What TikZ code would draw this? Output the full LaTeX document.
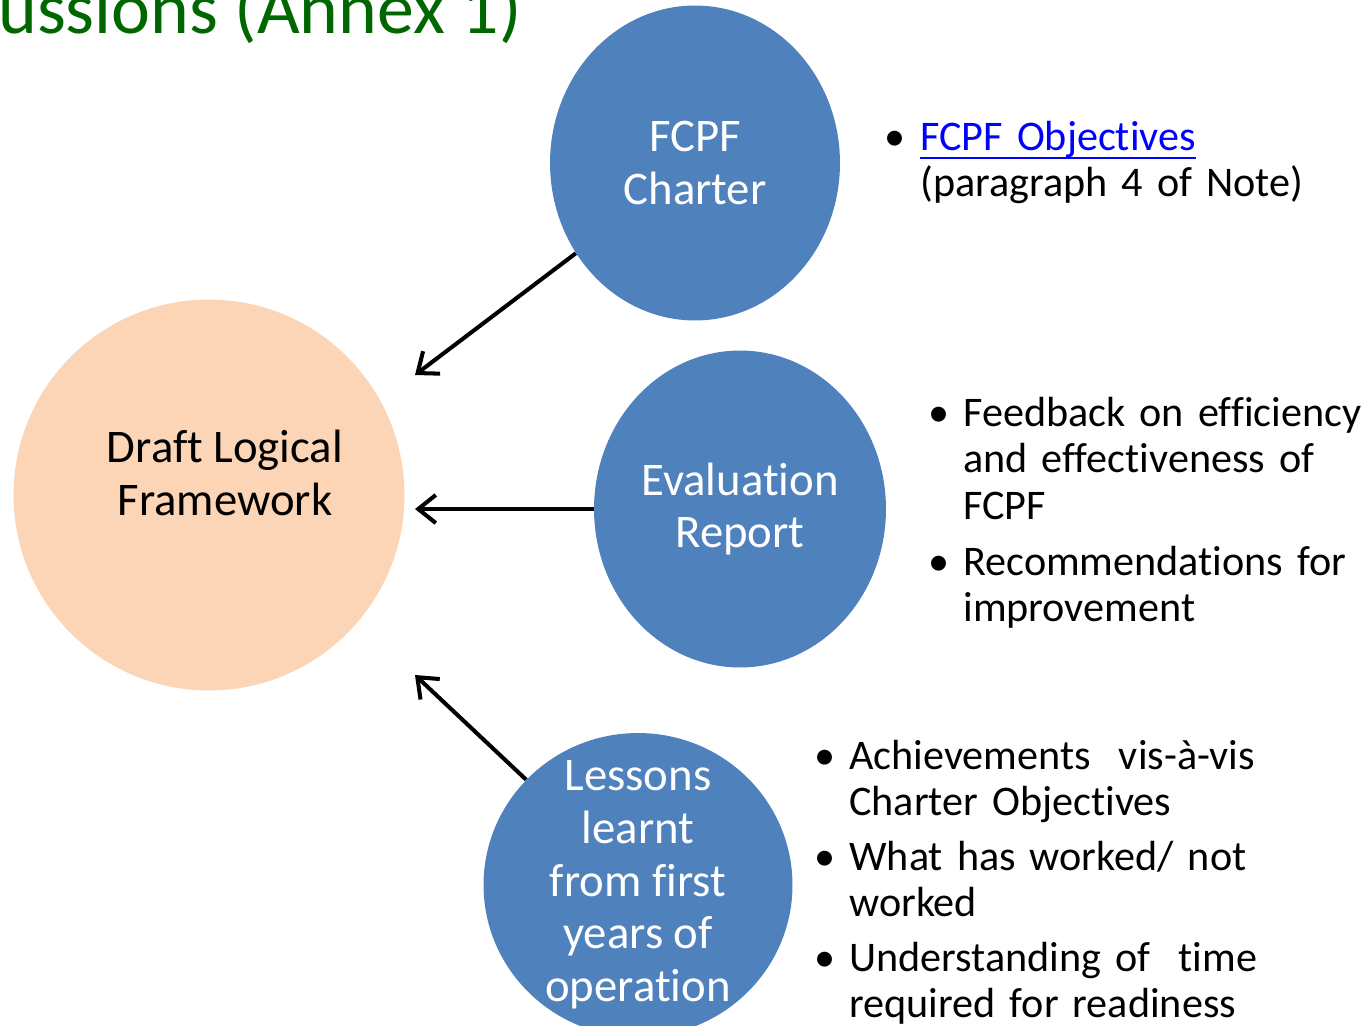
\documentclass[tikz,border=0pt]{standalone}
\usepackage{fontspec}
\setmainfont{Carlito}[Ligatures={NoCommon}]
\usetikzlibrary{arrows.meta,shapes.geometric}
\definecolor{circleblue}{RGB}{79,129,189}
\definecolor{draftpeach}{RGB}{251,213,181}
\definecolor{titlegreen}{RGB}{0,102,0}
\definecolor{linkblue}{RGB}{0,0,255}
\newcommand{\circfont}{\fontsize{26.6}{30}\selectfont}
\newcommand{\notefont}{\fontsize{24}{26.6}\selectfont}
\newcommand{\headfont}{\fontsize{42}{48}\selectfont}
\newcommand{\linkline}[1]{\setbox0\hbox{#1}\rlap{\rule[-5.4pt]{\wd0}{1.7pt}}\box0}

\begin{document}
\begin{tikzpicture}[x=0.02cm, y=0.02cm,
    bluecircle/.style={ellipse, fill=circleblue, draw=none, inner sep=0pt},
    circletext/.style={text=white, font=\circfont, align=center, inner sep=0pt},
    feedarrow/.style={line width=2.3pt, -{Straight Barb[length=10pt,width=16pt]}},
    bulletdot/.style={anchor=base west, inner sep=0pt, font=\notefont},
    notetext/.style={anchor=base west, inner sep=0pt, font=\notefont, align=left, text width=9cm}]
                    \useasboundingbox (0,0) rectangle (1362,-1025);
                    % heading, cut off at the top
                    \node[anchor=base east, font=\headfont, text=titlegreen, inner sep=0pt] (title) at (522,-33) {ussions (Annex 1)};
                    % circles
                    \node[ellipse, fill=draftpeach, inner sep=0pt, minimum width=7.82cm, minimum height=7.82cm] (draft) at (209,-495) {};
                    \node[circletext, text=black] (drafttext) at (225,-473) {Draft Logical\\Framework};
                    \node[bluecircle, minimum width=5.8cm, minimum height=6.3cm] (charter) at (695,-163) {};
                    \node[circletext] (chartertext) at (charter) {FCPF\\Charter};
                    \node[bluecircle, minimum width=5.84cm, minimum height=6.34cm] (evaluation) at (740,-509) {};
                    \node[circletext] (evaluationtext) at (evaluation) {Evaluation\\Report};
                    \node[bluecircle, minimum width=6.18cm, minimum height=6.08cm] (lessons) at (638,-885) {};
                    \node[circletext] (lessonstext) at (lessons) {Lessons\\learnt\\from first\\years of\\operation};
                    % arrows into the draft
                    \coordinate (tipA) at (415,-375);
                    \coordinate (tipB) at (415,-509);
                    \coordinate (tipC) at (415,-675);
                    \draw[feedarrow] (charter) -- (tipA);
                    \draw[feedarrow] (evaluation) -- (tipB);
                    \draw[feedarrow] (lessons) -- (tipC);
                    % bullet notes
                    \node[bulletdot] (dotA) at (884,-150) {•};
                    \node[notetext] (noteA) at (920,-150) {\textcolor{linkblue}{\linkline{FCPF Objectives}}\\(paragraph 4 of Note)};
                    \node[bulletdot] (dotB) at (928,-426) {•};
                    \node[notetext] (noteB) at (963,-426) {Feedback on efficiency\\and effectiveness of\\FCPF};
                    \node[bulletdot] (dotC) at (928,-575) {•};
                    \node[notetext] (noteC) at (963,-575) {Recommendations for\\improvement};
                    \node[bulletdot] (dotD) at (814,-769) {•};
                    \node[notetext] (noteD) at (849,-769) {Achievements\ \ vis-à-vis\\Charter Objectives};
                    \node[bulletdot] (dotE) at (814,-870) {•};
                    \node[notetext] (noteE) at (849,-870) {What has worked/ not\\worked};
                    \node[bulletdot] (dotF) at (814,-971) {•};
                    \node[notetext] (noteF) at (849,-971) {Understanding of\ \ time\\required for readiness};
\end{tikzpicture}
\end{document}
